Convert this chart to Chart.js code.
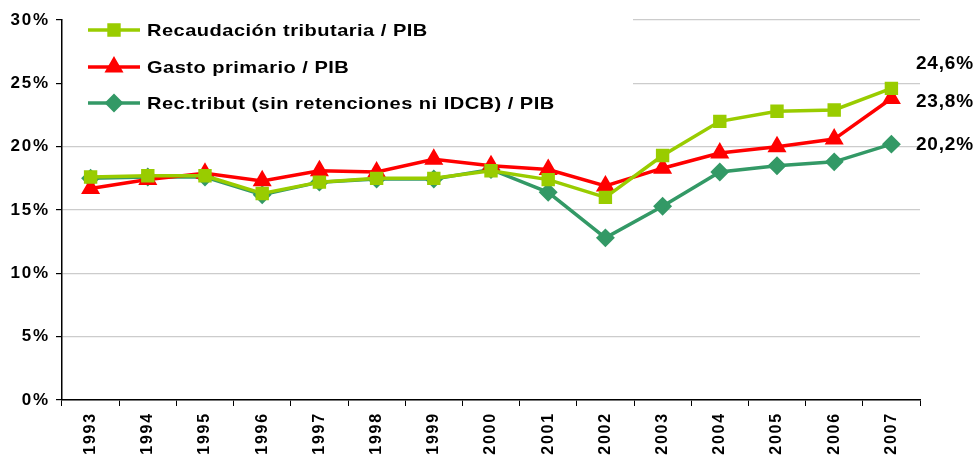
<!DOCTYPE html>
<html>
<head>
<meta charset="utf-8">
<script src="https://cdn.jsdelivr.net/npm/chart.js@4"></script>
<style>
  html, body { margin: 0; padding: 0; background: #fff; }
  #wrap { width: 976px; height: 459px; position: relative; }
</style>
</head>
<body>
<div id="wrap"><canvas id="chart"></canvas></div>
<script>
const years = ["1993", "1994", "1995", "1996", "1997", "1998", "1999", "2000", "2001", "2002", "2003", "2004", "2005", "2006", "2007"];
const recaudacion = [17.6, 17.7, 17.7, 16.3, 17.2, 17.5, 17.5, 18.1, 17.4, 16.0, 19.3, 22.0, 22.8, 22.9, 24.6];
const gasto = [16.7, 17.4, 17.9, 17.3, 18.1, 18.0, 19.0, 18.5, 18.2, 16.9, 18.3, 19.5, 20.0, 20.6, 23.8];
const recSinRet = [17.5, 17.6, 17.6, 16.2, 17.2, 17.45, 17.45, 18.2, 16.4, 12.8, 15.3, 18.0, 18.5, 18.8, 20.2];
const endLabels = ["24,6%", "23,8%", "20,2%"];
const endLabelShift = [-25, 3, 1]; // px, to keep labels apart

const font = "'Liberation Sans', Arial, sans-serif";

// the original text is a bit wide, like Excel output
const spacing = {
  id: "spacing",
  beforeDraw(chart) { chart.ctx.letterSpacing = "1.8px"; }
};

// legend drawn inside the plot, over the grid
const insideLegend = {
  id: "insideLegend",
  beforeDatasetsDraw(chart) {
    const ctx = chart.ctx;
    ctx.save();
    ctx.fillStyle = "#fff";
    ctx.fillRect(chart.chartArea.left + 1, 0, 570, 116);
    const rows = [30, 67, 103];
    chart.data.datasets.forEach((ds, i) => {
      const y = rows[i];
      ctx.strokeStyle = ds.borderColor;
      ctx.lineWidth = 3.5;
      ctx.beginPath();
      ctx.moveTo(88, y);
      ctx.lineTo(140, y);
      ctx.stroke();
      Chart.helpers.drawPoint(ctx, {
        pointStyle: ds.pointStyle,
        radius: ds.pointRadius,
        borderWidth: 1
      }, 114, y);
      ctx.fillStyle = ds.borderColor;
      ctx.fill();
      ctx.save();
      ctx.translate(147, y + 1);
      ctx.scale(1.18, 1);
      ctx.fillStyle = "#000";
      ctx.letterSpacing = "0.4px";
      ctx.font = "bold 17px " + font;
      ctx.textBaseline = "middle";
      ctx.textAlign = "left";
      ctx.fillText(ds.label, 0, 0);
      ctx.restore();
    });
    ctx.restore();
  }
};

const lastLabels = {
  id: "lastLabels",
  afterDatasetsDraw(chart) {
    const ctx = chart.ctx;
    const yScale = chart.scales.y;
    ctx.save();
    ctx.fillStyle = "#000";
    ctx.letterSpacing = "0.8px";
    ctx.font = "bold 19px " + font;
    ctx.textBaseline = "middle";
    ctx.textAlign = "left";
    chart.data.datasets.forEach((ds, i) => {
      const v = ds.data[ds.data.length - 1];
      ctx.fillText(endLabels[i], chart.chartArea.right - 4, yScale.getPixelForValue(v) + endLabelShift[i]);
    });
    ctx.restore();
  }
};

new Chart(document.getElementById("chart"), {
  type: "line",
  data: {
    labels: years,
    datasets: [
      {
        label: "Recaudación tributaria / PIB",
        data: recaudacion,
        borderColor: "#99cc00",
        backgroundColor: "#99cc00",
        pointStyle: "rect",
        pointRadius: 7,
        borderWidth: 3.5
      },
      {
        label: "Gasto primario / PIB",
        data: gasto,
        borderColor: "#ff0000",
        backgroundColor: "#ff0000",
        pointStyle: "triangle",
        pointRadius: 7.5,
        borderWidth: 3.5
      },
      {
        label: "Rec.tribut (sin retenciones ni IDCB) / PIB",
        data: recSinRet,
        borderColor: "#339966",
        backgroundColor: "#339966",
        pointStyle: "rectRot",
        pointRadius: 7,
        borderWidth: 3.5
      }
    ]
  },
  options: {
    responsive: true,
    maintainAspectRatio: false,
    animation: false,
    layout: { padding: { left: 0, right: 56, top: 20, bottom: 0 } },
    plugins: { legend: { display: false }, tooltip: { enabled: false } },
    elements: { line: { tension: 0 }, point: { borderWidth: 1 } },
    scales: {
      x: {
        offset: true,
        grid: { offset: true, drawOnChartArea: false, color: "#000", tickLength: 6 },
        border: { color: "#000", width: 1.5 },
        ticks: {
          color: "#000",
          minRotation: 90,
          maxRotation: 90,
          padding: 6,
          font: { family: font, size: 16, weight: "bold" }
        },
        afterFit: s => { s.height = 59; }
      },
      y: {
        min: 0,
        max: 30,
        grid: { color: "#cccccc", tickColor: "#000", tickLength: 6, lineWidth: 1.2 },
        border: { color: "#000", width: 1.5 },
        ticks: {
          stepSize: 5,
          color: "#000",
          padding: 6,
          font: { family: font, size: 17, weight: "bold" },
          callback: v => v + "%"
        },
        afterFit: s => { s.width = 62; }
      }
    }
  },
  plugins: [spacing, insideLegend, lastLabels]
});
</script>
</body>
</html>
